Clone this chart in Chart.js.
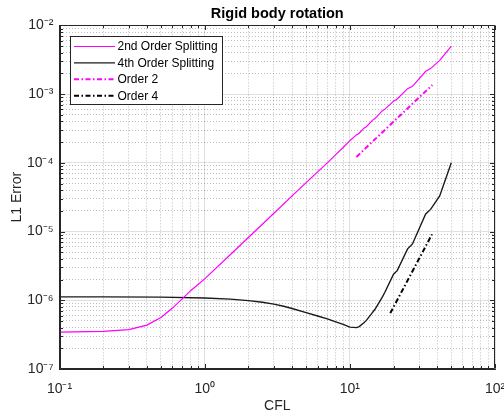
<!DOCTYPE html>
<html>
<head>
<meta charset="utf-8">
<script src="https://cdn.jsdelivr.net/npm/chart.js@4.4.0/dist/chart.umd.min.js"></script>
<style>
html,body{margin:0;padding:0;background:#fff;}
#wrap{width:504px;height:418px;position:relative;}
</style>
</head>
<body>
<div id="wrap"><canvas id="c" width="504" height="418"></canvas></div>
<script>
// ---- data ----
const chartTitle = 'Rigid body rotation';
const xAxisTitle = 'CFL';
const yAxisTitle = 'L1 Error';
const seriesLabels = ['2nd Order Splitting', '4th Order Splitting', 'Order 2', 'Order 4'];

const cflSplit2 = [0.1, 0.2, 0.3, 0.4, 0.5, 0.6, 0.7, 0.8, 0.9, 1, 1.5, 2, 3, 4, 5, 6, 7, 8, 9, 10,
  11.1, 11.6, 12.5, 13.0, 14.3, 14.9, 16.7, 17.4, 20, 21.2, 25, 27, 33.3, 36, 41.6, 50];
const errSplit2 = [3.45e-7, 3.52e-7, 3.75e-7, 4.35e-7, 5.6e-7, 7.7e-7, 1.05e-6, 1.38e-6, 1.7e-6, 2.05e-6,
  4.6e-6, 8.2e-6, 1.85e-5, 3.3e-5, 5.15e-5, 7.4e-5, 1.0e-4, 1.32e-4, 1.67e-4, 2.1e-4,
  2.55e-4, 2.7e-4, 3.2e-4, 3.35e-4, 4.15e-4, 4.4e-4, 5.7e-4, 6.0e-4, 7.9e-4, 8.5e-4,
  1.2e-3, 1.3e-3, 2.15e-3, 2.35e-3, 3.1e-3, 5.0e-3];

const cflSplit4 = [0.1, 0.2, 0.5, 1, 1.5, 2, 2.5, 3, 3.5, 4, 5, 6, 7, 8, 9, 10,
  11.1, 11.6, 12.5, 13, 14.3, 14.9, 16.7, 17.4, 20, 21.2, 25, 27, 33.3, 36, 41.6, 50];
const errSplit4 = [1.12e-6, 1.12e-6, 1.11e-6, 1.08e-6, 1.04e-6, 9.9e-7, 9.35e-7, 8.8e-7, 8.2e-7, 7.6e-7,
  6.6e-7, 5.9e-7, 5.35e-7, 4.85e-7, 4.45e-7, 4.07e-7,
  4.0e-7, 4.15e-7, 4.7e-7, 5.1e-7, 6.6e-7, 7.4e-7,
  1.1e-6, 1.3e-6, 2.4e-6, 2.7e-6, 5.6e-6, 6.6e-6, 1.8e-5, 2.1e-5, 3.3e-5, 1.0e-4];

const cflOrder2 = [11.1, 37];
const errOrder2 = [1.22e-4, 1.36e-3];
const cflOrder4 = [19, 36.8];
const errOrder4 = [6.5e-7, 9.1e-6];

const xTickValues = [0.1, 1, 10, 100];
const xTickLabels = ['10⁻¹', '10⁰', '10¹', '10²'];
const yTickValues = [1e-7, 1e-6, 1e-5, 1e-4, 1e-3, 1e-2];
const yTickLabels = ['10⁻⁷', '10⁻⁶', '10⁻⁵', '10⁻⁴', '10⁻³', '10⁻²'];

// ---- helpers ----
const FONT = '"Liberation Sans", Arial, Helvetica, sans-serif';
const AXIS_COLOR = '#262626';
const pts = (xs, ys) => xs.map((x, i) => ({x: x, y: ys[i]}));
const isPow10 = v => Math.abs(Math.log10(v) - Math.round(Math.log10(v))) < 1e-7;
function labelFor(v, vals, labels) {
  for (let i = 0; i < vals.length; i++) {
    if (Math.abs(Math.log10(v) - Math.log10(vals[i])) < 1e-7) return labels[i];
  }
  return '';
}
function logTicks(vals) {
  const out = [];
  for (let i = 0; i < vals.length; i++) {
    const d = vals[i];
    if (i === vals.length - 1) { out.push(d); break; }
    for (let m = 1; m < 10; m++) out.push(d * m);
  }
  return out.map(v => ({value: v, major: isPow10(v)}));
}
const gridColor = c => (c.tick && isPow10(c.tick.value)) ? 'rgba(0,0,0,0.12)' : 'rgba(0,0,0,0.26)';
const gridDash = c => (c.tick && !isPow10(c.tick.value)) ? [1, 2] : [];

// ---- plugins ----
const frameTicks = {
  id: 'frameTicks',
  afterDraw(chart) {
    const ctx = chart.ctx, a = chart.chartArea;
    ctx.save();
    ctx.strokeStyle = AXIS_COLOR;
    ctx.lineWidth = 1;
    const L = Math.round(a.left) + 0.5, R = Math.round(a.right) - 0.5;
    const T = Math.round(a.top) + 0.5, B = Math.round(a.bottom) - 0.5;
    ctx.beginPath();
    ctx.moveTo(L, T); ctx.lineTo(R, T); ctx.lineTo(R, B); ctx.lineTo(L, B); ctx.closePath();
    ctx.stroke();
    const xs = chart.scales.x, ys = chart.scales.y;
    ctx.beginPath();
    xs.ticks.forEach(t => {
      const p = Math.round(xs.getPixelForValue(t.value)) + 0.5;
      const len = isPow10(t.value) ? 4.5 : 2.5;
      ctx.moveTo(p, B); ctx.lineTo(p, B - len);
      ctx.moveTo(p, T); ctx.lineTo(p, T + len);
    });
    ys.ticks.forEach(t => {
      const p = Math.round(ys.getPixelForValue(t.value)) + 0.5;
      const len = isPow10(t.value) ? 4.5 : 2.5;
      ctx.moveTo(L, p); ctx.lineTo(L + len, p);
      ctx.moveTo(R, p); ctx.lineTo(R - len, p);
    });
    ctx.stroke();
    ctx.restore();
  }
};

const boxLegend = {
  id: 'boxLegend',
  afterDatasetsDraw(chart) {
    const ctx = chart.ctx, a = chart.chartArea;
    const x0 = Math.round(a.left + 10) + 0.5, y0 = Math.round(a.top + 11) + 0.5;
    const w = 152, h = 68;
    ctx.save();
    ctx.fillStyle = '#ffffff';
    ctx.fillRect(x0, y0, w, h);
    ctx.strokeStyle = AXIS_COLOR;
    ctx.lineWidth = 1;
    ctx.strokeRect(x0, y0, w, h);
    chart.data.datasets.forEach((ds, i) => {
      const cy = y0 + 10 + i * 16.4;
      ctx.strokeStyle = ds.borderColor;
      ctx.lineWidth = ds.borderWidth;
      ctx.setLineDash(ds.borderDash || []);
      ctx.beginPath();
      ctx.moveTo(x0 + 3.5, cy);
      ctx.lineTo(x0 + 44.5, cy);
      ctx.stroke();
      ctx.setLineDash([]);
      ctx.fillStyle = '#000000';
      ctx.font = '12px ' + FONT;
      ctx.textBaseline = 'middle';
      ctx.textAlign = 'left';
      ctx.fillText(ds.label, x0 + 47, cy + 0.5);
    });
    ctx.restore();
  }
};

const bg = {
  id: 'bg',
  beforeDraw(chart) {
    const ctx = chart.ctx;
    ctx.save();
    ctx.fillStyle = '#ffffff';
    ctx.fillRect(0, 0, chart.width, chart.height);
    ctx.restore();
  }
};

new Chart(document.getElementById('c'), {
  type: 'line',
  data: {
    datasets: [
      {label: seriesLabels[0], data: pts(cflSplit2, errSplit2), borderColor: '#ff00ff', borderWidth: 1.2, pointRadius: 0, tension: 0},
      {label: seriesLabels[1], data: pts(cflSplit4, errSplit4), borderColor: '#1a1a1a', borderWidth: 1.4, pointRadius: 0, tension: 0},
      {label: seriesLabels[2], data: pts(cflOrder2, errOrder2), borderColor: '#ff00ff', borderWidth: 2, borderDash: [5, 2.5, 1.5, 2.5], pointRadius: 0},
      {label: seriesLabels[3], data: pts(cflOrder4, errOrder4), borderColor: '#000000', borderWidth: 2, borderDash: [5, 2.5, 1.5, 2.5], pointRadius: 0}
    ]
  },
  options: {
    responsive: false,
    animation: false,
    devicePixelRatio: 1,
    layout: {padding: {left: 0, right: 9, top: 0, bottom: 0}},
    plugins: {
      legend: {display: false},
      tooltip: {enabled: false},
      title: {
        display: true, text: chartTitle, fullSize: false, color: '#000000',
        font: {family: FONT, size: 14.5, weight: 'bold'},
        padding: {top: 5, bottom: 3}
      }
    },
    scales: {
      x: {
        type: 'logarithmic',
        min: xTickValues[0], max: xTickValues[xTickValues.length - 1],
        afterBuildTicks: s => { s.ticks = logTicks(xTickValues); },
        afterFit: s => { s.height = 49; s.paddingLeft = 0; s.paddingRight = 0; },
        ticks: {
          autoSkip: false, maxRotation: 0, minRotation: 0, padding: 12, color: AXIS_COLOR,
          font: {family: FONT, size: 14},
          callback: v => labelFor(v, xTickValues, xTickLabels)
        },
        grid: {drawTicks: false, color: gridColor, lineWidth: 1},
        border: {display: true, color: AXIS_COLOR, width: 1, dash: gridDash},
        title: {display: true, text: xAxisTitle, color: AXIS_COLOR, font: {family: FONT, size: 14}, padding: {top: 0, bottom: 3}}
      },
      y: {
        type: 'logarithmic',
        min: yTickValues[0], max: yTickValues[yTickValues.length - 1],
        afterBuildTicks: s => { s.ticks = logTicks(yTickValues); },
        afterFit: s => { s.width = 59.5; },
        ticks: {
          autoSkip: false, padding: 6, color: AXIS_COLOR,
          font: {family: FONT, size: 14},
          callback: v => labelFor(v, yTickValues, yTickLabels)
        },
        grid: {drawTicks: false, color: gridColor, lineWidth: 1},
        border: {display: true, color: AXIS_COLOR, width: 1, dash: gridDash},
        title: {display: true, text: yAxisTitle, color: AXIS_COLOR, font: {family: FONT, size: 14}, padding: {top: 9, bottom: 0}}
      }
    }
  },
  plugins: [bg, boxLegend, frameTicks]
});
</script>
</body>
</html>
